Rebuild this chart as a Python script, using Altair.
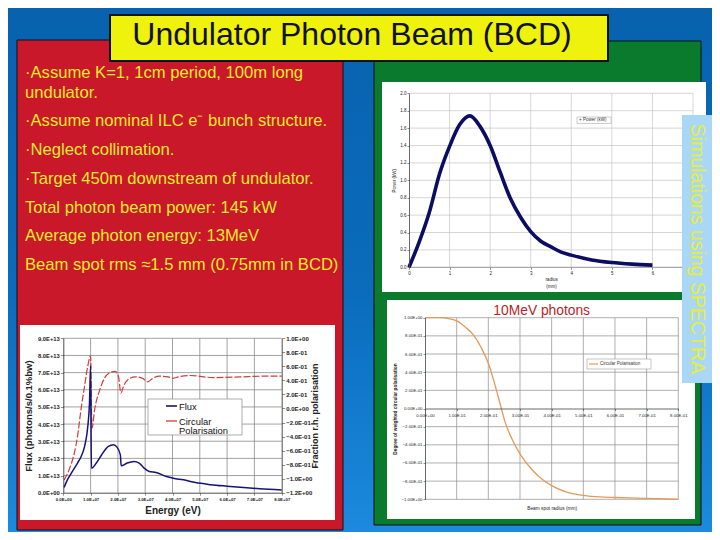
import altair as alt
import pandas as pd

# ---------------- text content ----------------
TITLE = "Undulator Photon Beam (BCD)"
TEXT_LINES = [
    "·Assume K=1, 1cm period, 100m long",
    "undulator.",
    "·Assume nominal ILC  e⁻ bunch structure.",
    "·Neglect collimation.",
    "·Target 450m downstream of undulator.",
    "Total photon beam power: 145 kW",
    "Average photon energy: 13MeV",
    "Beam spot rms ≈1.5 mm (0.75mm in BCD)",
]
SIDE_NOTE = "Simulations using SPECTRA"

# ---------------- data: power vs radius ----------------
POWER_RADIUS = [0, 0.25, 0.5, 0.75, 1.0, 1.25, 1.5, 1.75, 2.0, 2.25, 2.5, 2.75,
                3.0, 3.25, 3.5, 3.75, 4.0, 4.5, 5.0, 5.5, 6.0]
POWER_KW = [0, 0.29, 0.63, 1.07, 1.39, 1.64, 1.74, 1.62, 1.40, 1.09, 0.79, 0.575,
            0.41, 0.30, 0.235, 0.175, 0.14, 0.085, 0.055, 0.037, 0.025]
PW_X_TICKS = [0, 1, 2, 3, 4, 5, 6, 7]
PW_Y_TICKS = [0.0, 0.2, 0.4, 0.6, 0.8, 1.0, 1.2, 1.4, 1.6, 1.8, 2.0]

# ---------------- data: flux & polarisation vs energy ----------------
FLUX_E7 = [0.03, 0.15, 0.28, 0.52, 0.65, 0.78, 0.9, 0.96, 1.0, 1.03, 1.21, 1.4, 1.65,
           1.84, 1.96, 2.09, 2.12, 2.34, 2.59, 2.78, 2.96, 3.15, 3.4, 3.78, 4.03, 4.4,
           4.84, 5.4, 6.0, 6.6, 7.2, 8.0]
FLUX_E13 = [0.31, 0.75, 1.1, 1.73, 2.1, 2.7, 3.9, 5.25, 7.4, 1.43, 1.73, 2.2, 2.7,
            2.8, 2.67, 2.2, 1.57, 1.73, 1.82, 1.73, 1.43, 1.24, 1.18, 0.94, 0.84, 0.75,
            0.59, 0.47, 0.38, 0.30, 0.23, 0.16]
POL_E7 = [0.03, 0.21, 0.4, 0.52, 0.65, 0.78, 0.9, 1.0, 1.05, 1.15, 1.34, 1.52, 1.71,
          1.9, 2.02, 2.11, 2.21, 2.4, 2.65, 2.9, 3.09, 3.28, 3.52, 3.84, 4.03, 4.21,
          4.65, 5.5, 6.5, 7.3, 8.0]
POL_VAL = [-1.02, -0.875, -0.64, -0.40, -0.01, 0.32, 0.61, 0.75, -0.28, -0.01, 0.27,
           0.44, 0.51, 0.53, 0.46, 0.22, 0.32, 0.42, 0.45, 0.43, 0.38, 0.43, 0.46,
           0.45, 0.43, 0.45, 0.47, 0.44, 0.45, 0.46, 0.46]
FLUX_X_TICKS = [0.0, 1e7, 2e7, 3e7, 4e7, 5e7, 6e7, 7e7, 8e7]
FLUX_Y_TICKS = [0.0, 1e13, 2e13, 3e13, 4e13, 5e13, 6e13, 7e13, 8e13, 9e13]
POL_TICKS = [-1.2, -1.0, -0.8, -0.6, -0.4, -0.2, 0.0, 0.2, 0.4, 0.6, 0.8, 1.0]

# ---------------- data: circular polarisation vs beam spot radius ----------------
CP_R = [0, 0.047, 0.074, 0.102, 0.126, 0.153, 0.179, 0.202, 0.221, 0.237, 0.253,
        0.274, 0.302, 0.332, 0.363, 0.4, 0.447, 0.5, 0.553, 0.6, 0.7, 0.8]
CP_VAL = [1.0, 1.0, 0.99, 0.963, 0.90, 0.81, 0.66, 0.48, 0.26, 0.055, -0.15, -0.33,
          -0.51, -0.65, -0.76, -0.85, -0.92, -0.956, -0.974, -0.98, -0.99, -1.0]
CP_X_TICKS = [0.0, 0.1, 0.2, 0.3, 0.4, 0.5, 0.6, 0.7, 0.8]
CP_Y_TICKS = [-1.0, -0.8, -0.6, -0.4, -0.2, 0.0, 0.2, 0.4, 0.6, 0.8, 1.0]

# ---------------- layout helpers (page pixel coordinates) ----------------
M = 8
W, H = 704, 524
FONT = "Liberation Sans"
ONE = pd.DataFrame({"k": [0]})


def c(v):
    return v - M


def rect(x0, y0, x1, y1, fill, stroke=None, sw=0.0):
    kw = dict(fill=fill, strokeWidth=sw)
    if stroke:
        kw["stroke"] = stroke
    return alt.Chart(ONE).mark_rect(**kw).encode(
        x=alt.value(c(x0)), x2=alt.value(c(x1)), y=alt.value(c(y0)), y2=alt.value(c(y1)))


def text(s, x, y, size, color, align="left", weight="normal", angle=0, baseline="middle"):
    return alt.Chart(ONE).mark_text(
        text=s, font=FONT, fontSize=size, fontWeight=weight, color=color,
        align=align, baseline=baseline, angle=angle).encode(x=alt.value(c(x)), y=alt.value(c(y)))


def seg(x0, y0, x1, y1, color, sw):
    return alt.Chart(ONE).mark_rule(color=color, strokeWidth=sw).encode(
        x=alt.value(c(x0)), x2=alt.value(c(x1)), y=alt.value(c(y0)), y2=alt.value(c(y1)))


def lin(domain, rng):
    return alt.Scale(domain=domain, range=rng, nice=False, zero=False)


def sci(dec):
    e = "floor(log(abs(datum.value))/LN10+1e-9)"
    zero = "0." + "0" * dec + "E+00"
    return ("datum.value == 0 ? '" + zero + "' : (format(datum.value/pow(10," + e + "),'."
            + str(dec) + "f') + 'E' + (" + e + " < 0 ? '-' : '+') + (abs(" + e
            + ") < 10 ? '0' : '') + abs(" + e + "))")


def ax(orient, offset, values, size, **kw):
    base = dict(orient=orient, offset=offset, values=values, labelFont=FONT,
                labelFontSize=size, labelColor="#222", labelOverlap=False,
                labelFlush=False, labelPadding=1, tickColor="#444", tickSize=2,
                tickWidth=0.6, domainColor="#444", domainWidth=0.8, grid=False,
                zindex=1, titleFont=FONT, titleColor="#222")
    base.update(kw)
    return alt.Axis(**base)


def vgrid(values, xs, ys, y0, y1, color, sw=0.7):
    return alt.Chart(pd.DataFrame({"v": values})).mark_rule(color=color, strokeWidth=sw).encode(
        x=alt.X("v:Q", scale=xs, axis=None),
        y=alt.YDatum(y0, scale=ys, axis=None), y2=alt.Y2Datum(y1))


def hgrid(values, xs, ys, x0, x1, color, sw=0.7):
    return alt.Chart(pd.DataFrame({"v": values})).mark_rule(color=color, strokeWidth=sw).encode(
        y=alt.Y("v:Q", scale=ys, axis=None),
        x=alt.XDatum(x0, scale=xs, axis=None), x2=alt.X2Datum(x1))


layers = []

# background and panels
bg = alt.Chart(ONE).mark_rect(fill={
    "gradient": "linear", "x1": 0, "x2": 0, "y1": 0, "y2": 1,
    "stops": [{"offset": 0, "color": "#0862ae"}, {"offset": 0.55, "color": "#0a6cbc"},
              {"offset": 1, "color": "#1c8ade"}]}).encode(
    x=alt.value(0), x2=alt.value(W), y=alt.value(0), y2=alt.value(H))
layers.append(bg)
layers.append(rect(17, 40, 343, 530, "#c8182a", "#111", 1))
layers.append(rect(374, 41, 701, 525, "#0a7a2c", "#111", 1))
layers.append(rect(110, 15, 608, 61, "#eef20c", "#111", 2))
layers.append(text(TITLE, 352, 45, 32, "#111", align="center", baseline="alphabetic"))

LINE_Y = [73, 93, 121, 150, 179, 208, 236, 265]
for s, yy in zip(TEXT_LINES, LINE_Y):
    layers.append(text(s, 25, yy, 16.6, "#f2ea2c"))

# ---------------- top-right chart: power ----------------
layers.append(rect(382, 82, 706, 292, "#ffffff"))
xs1 = lin([0, 7], [c(409), c(693)])
ys1 = lin([0, 2], [c(267.3), c(93.3)])
layers.append(vgrid(PW_X_TICKS[1:], xs1, ys1, 0, 2, "#c4c4c4"))
layers.append(hgrid(PW_Y_TICKS[1:], xs1, ys1, 0, 7, "#c4c4c4"))
layers.append(hgrid(PW_Y_TICKS[:1], xs1, ys1, 0, 7, "#888888", 0.9))
power_df = pd.DataFrame({"radius": POWER_RADIUS, "power": POWER_KW})
layers.append(alt.Chart(power_df).mark_line(color="#0c0c62", strokeWidth=3.6, interpolate="monotone").encode(
    x=alt.X("radius:Q", scale=xs1, axis=ax("bottom", -(H - c(267.3)), PW_X_TICKS[:-1], 4.5,
                                            format="d", labelAngle=0, domain=False,
                                            title=["radius", "(mm)"], titleFontSize=4.5,
                                            titleFontWeight="normal", titlePadding=2)),
    y=alt.Y("power:Q", scale=ys1, axis=ax("left", -c(409), PW_Y_TICKS, 4.5, format=".1f",
                                          title="Power (kW)", titleFontSize=4.5,
                                          titleFontWeight="normal", titlePadding=3))))
layers.append(rect(577, 117, 611, 123.5, "#ffffff", "#999", 0.5))
layers.append(text("+ Power (kW)", 579, 120.3, 4.5, "#333"))

# ---------------- bottom-left chart: flux & polarisation ----------------
layers.append(rect(20, 325, 335, 520, "#ffffff"))
xs2 = lin([0, 8e7], [c(63.3), c(281.7)])
yF = lin([0, 9e13], [c(492.7), c(338.3)])
yP = lin([-1.2, 1.0], [c(492.7), c(338.3)])
layers.append(vgrid(FLUX_X_TICKS[1:-1], xs2, yF, 0, 9e13, "#8a8a8a", 0.8))
layers.append(hgrid(FLUX_Y_TICKS[1:], xs2, yF, 0, 8e7, "#8a8a8a", 0.8))
flux_df = pd.DataFrame({"energy": [v * 1e7 for v in FLUX_E7], "flux": [v * 1e13 for v in FLUX_E13]})
pol_df = pd.DataFrame({"energy": [v * 1e7 for v in POL_E7], "pol": POL_VAL})
layers.append(alt.Chart(pol_df).mark_line(color="#d23c3c", strokeWidth=1.2, strokeDash=[7, 2],
                                          interpolate="monotone").encode(
    x=alt.X("energy:Q", scale=xs2, axis=None),
    y=alt.Y("pol:Q", scale=yP, axis=ax("right", -(W - c(281.7)), POL_TICKS, 6,
                                       labelExpr=sci(1), labelFontWeight="bold", tickSize=3,
                                       domainColor="#222", title="Fraction r.h. polarisation",
                                       titleFontSize=9, titleFontWeight="bold", titleAngle=270,
                                       titlePadding=8))))
layers.append(alt.Chart(flux_df).mark_line(color="#14147a", strokeWidth=1.5, interpolate="monotone").encode(
    x=alt.X("energy:Q", scale=xs2, axis=ax("bottom", -(H - c(492.7)), FLUX_X_TICKS, 4.3,
                                           labelExpr=sci(1), labelFontWeight="bold",
                                           labelAngle=0, tickSize=2.5, domainColor="#222",
                                           labelPadding=2, title="Energy (eV)",
                                           titleFontSize=10, titleFontWeight="bold",
                                           titlePadding=4)),
    y=alt.Y("flux:Q", scale=yF, axis=ax("left", -c(63.3), FLUX_Y_TICKS, 5.8,
                                        labelExpr=sci(1), labelFontWeight="bold", tickSize=3,
                                        domainColor="#222", title="Flux (photons/s/0.1%bw)",
                                        titleFontSize=9.5, titleFontWeight="bold",
                                        titlePadding=4))))
layers.append(rect(148, 399, 242, 435, "#ffffff", "#8a8a8a", 0.7))
layers.append(seg(166, 406, 177, 406, "#14147a", 1.6))
layers.append(text("Flux", 179, 406.5, 9.4, "#111"))
layers.append(seg(166, 421, 177, 421, "#d23c3c", 1.3))
layers.append(text("Circular", 179, 421.5, 9.4, "#111"))
layers.append(text("Polarisation", 179, 431, 9.4, "#111"))

# ---------------- bottom-right chart: circular polarisation vs radius ----------------
layers.append(rect(387, 300, 695, 519, "#ffffff"))
xs3 = lin([0, 0.8], [c(425), c(678.3)])
ys3 = lin([-1, 1], [c(499.3), c(317.7)])
layers.append(vgrid(CP_X_TICKS[1:], xs3, ys3, -1, 1, "#9a9a9a", 0.8))
layers.append(hgrid([v for v in CP_Y_TICKS if v != 0.0], xs3, ys3, 0, 0.8, "#9a9a9a", 0.8))
cp_df = pd.DataFrame({"radius": CP_R, "cp": CP_VAL})
layers.append(alt.Chart(cp_df).mark_line(color="#e39a5a", strokeWidth=1.3, interpolate="monotone").encode(
    x=alt.X("radius:Q", scale=xs3, axis=ax("bottom", -(H - c(408.5)), CP_X_TICKS, 4.3,
                                           labelExpr=sci(2), labelAngle=0, labelPadding=3,
                                           title="Beam spot radius (mm)", titleFontSize=4.8,
                                           titleFontWeight="normal", titleY=99.5,
                                           titleBaseline="middle")),
    y=alt.Y("cp:Q", scale=ys3, axis=ax("left", -c(425), CP_Y_TICKS, 4.3, labelExpr=sci(2),
                                       title="Degree of weighted circular polarisation",
                                       titleFontSize=4.8, titleFontWeight="bold",
                                       titlePadding=3))))
layers.append(text("10MeV photons", 541.7, 311, 13.8, "#b81e26", align="center"))
layers.append(rect(587, 359, 651, 369, "#ffffff", "#8a8a8a", 0.5))
layers.append(seg(589, 364, 598, 364, "#e39a5a", 1.2))
layers.append(text("Circular Polarisation", 600, 364.3, 4.5, "#333"))

# ---------------- side note ----------------
layers.append(rect(682, 115, 712, 383, "#aad7f5"))
layers.append(text(SIDE_NOTE, 697, 249, 19.5, "#e6ee3c", align="center", angle=90))

chart = alt.layer(*layers).resolve_scale(x="independent", y="independent").properties(
    width=W, height=H, autosize=alt.AutoSizeParams(type="none"), padding=0,
    background="#0862ae",
).configure_view(strokeWidth=0)

chart.save("out.html", embed_options={"renderer": "svg", "actions": False})
